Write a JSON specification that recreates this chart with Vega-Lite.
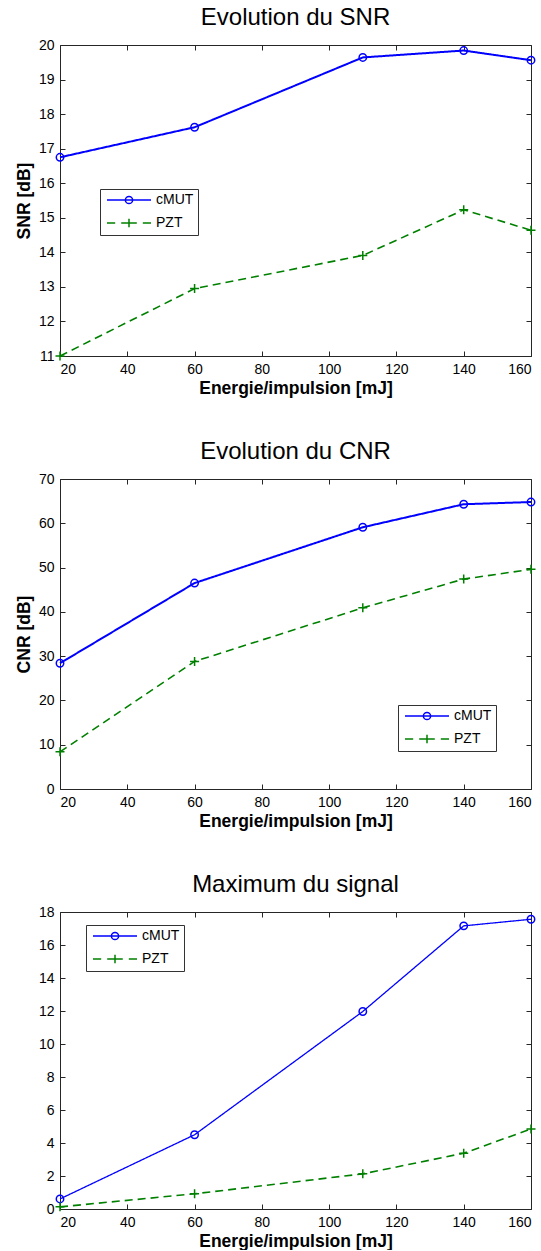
{
  "$schema": "https://vega.github.io/schema/vega-lite/v6.json",
  "padding": {"left": 14, "top": 5, "right": 0, "bottom": 0},
  "spacing": 42,
  "datasets": {
    "snr": [
      {"E": 20, "serie": "cMUT", "v": 16.75}, {"E": 60, "serie": "cMUT", "v": 17.62}, {"E": 110, "serie": "cMUT", "v": 19.64}, {"E": 140, "serie": "cMUT", "v": 19.84}, {"E": 160, "serie": "cMUT", "v": 19.56},
      {"E": 20, "serie": "PZT", "v": 11.0}, {"E": 60, "serie": "PZT", "v": 12.95}, {"E": 110, "serie": "PZT", "v": 13.91}, {"E": 140, "serie": "PZT", "v": 15.23}, {"E": 160, "serie": "PZT", "v": 14.64}
    ],
    "cnr": [
      {"E": 20, "serie": "cMUT", "v": 28.4}, {"E": 60, "serie": "cMUT", "v": 46.5}, {"E": 110, "serie": "cMUT", "v": 59.1}, {"E": 140, "serie": "cMUT", "v": 64.3}, {"E": 160, "serie": "cMUT", "v": 64.8},
      {"E": 20, "serie": "PZT", "v": 8.4}, {"E": 60, "serie": "PZT", "v": 28.8}, {"E": 110, "serie": "PZT", "v": 40.9}, {"E": 140, "serie": "PZT", "v": 47.4}, {"E": 160, "serie": "PZT", "v": 49.6}
    ],
    "maxi": [
      {"E": 20, "serie": "cMUT", "v": 0.61}, {"E": 60, "serie": "cMUT", "v": 4.5}, {"E": 110, "serie": "cMUT", "v": 11.97}, {"E": 140, "serie": "cMUT", "v": 17.16}, {"E": 160, "serie": "cMUT", "v": 17.56},
      {"E": 20, "serie": "PZT", "v": 0.13}, {"E": 60, "serie": "PZT", "v": 0.92}, {"E": 110, "serie": "PZT", "v": 2.13}, {"E": 140, "serie": "PZT", "v": 3.38}, {"E": 160, "serie": "PZT", "v": 4.85}
    ]
  },
  "resolve": {
    "scale": {"color": "independent", "shape": "independent"},
    "legend": {"color": "independent", "shape": "independent"}
  },
  "vconcat": [
    {
      "title": "Evolution du SNR",
      "width": 471, "height": 311,
      "data": {"name": "snr"},
      "layer": [
        {
          "mark": {"type": "line"},
          "encoding": {
            "x": {"field": "E", "type": "quantitative", "scale": {"domain": [20, 160], "nice": false}, "axis": {"values": [20,40,60,80,100,120,140,160], "title": "Energie/impulsion [mJ]"}},
            "y": {"field": "v", "type": "quantitative", "scale": {"domain": [11, 20], "nice": false, "zero": false}, "axis": {"values": [11,12,13,14,15,16,17,18,19,20], "title": "SNR [dB]"}},
            "color": {"field": "serie", "type": "nominal", "scale": {"domain": ["cMUT", "PZT"], "range": ["#0000ff", "#008000"]}, "legend": {"orient": "none", "legendX": 40, "legendY": 144}},
            "strokeDash": {"condition": {"test": "datum.serie == 'PZT'", "value": [8, 5]}, "value": [1, 0]},
            "strokeWidth": {"condition": {"test": "datum.serie == 'PZT'", "value": 1.6}, "value": 2}
          }
        },
        {
          "mark": {"type": "point", "filled": false, "strokeWidth": 1.5, "opacity": 1},
          "encoding": {
            "x": {"field": "E", "type": "quantitative", "scale": {"domain": [20, 160], "nice": false}, "axis": null},
            "y": {"field": "v", "type": "quantitative", "scale": {"domain": [11, 20], "nice": false, "zero": false}, "axis": null},
            "color": {"field": "serie", "type": "nominal", "legend": {"orient": "none", "legendX": 40, "legendY": 144}},
            "shape": {"condition": {"test": "datum.serie == 'PZT'", "value": "M-1,0H1M0,-1V1"}, "value": "circle"},
            "size": {"condition": {"test": "datum.serie == 'PZT'", "value": 81}, "value": 55}
          }
        },
        {
          "mark": {"type": "point", "opacity": 0, "filled": false, "strokeWidth": 1.8},
          "encoding": {
            "x": {"field": "E", "type": "quantitative", "scale": {"domain": [20, 160], "nice": false}, "axis": {"orient": "top", "values": [20,40,60,80,100,120,140,160], "labels": false, "title": null}},
            "y": {"field": "v", "type": "quantitative", "scale": {"domain": [11, 20], "nice": false, "zero": false}, "axis": {"orient": "right", "values": [11,12,13,14,15,16,17,18,19,20], "labels": false, "title": null}},
            "color": {"field": "serie", "type": "nominal", "legend": {"orient": "none", "legendX": 40, "legendY": 144}},
            "shape": {"field": "serie", "type": "nominal", "scale": {"domain": ["cMUT", "PZT"], "range": ["M-3.67,0H3.67M-0.6,0A0.6,0.6 0 1,1 0.6,0A0.6,0.6 0 1,1 -0.6,0", "M-3.67,0H-2.3M-1.3,0H1.3M2.3,0H3.67M0,-0.7V0.7"]}, "legend": {"orient": "none", "legendX": 40, "legendY": 144}}
          }
        }
      ],
      "resolve": {"scale": {"x": "independent", "y": "independent"}, "axis": {"x": "independent", "y": "independent"}}
    },
    {
      "title": "Evolution du CNR",
      "width": 471, "height": 310,
      "data": {"name": "cnr"},
      "layer": [
        {
          "mark": {"type": "line"},
          "encoding": {
            "x": {"field": "E", "type": "quantitative", "scale": {"domain": [20, 160], "nice": false}, "axis": {"values": [20,40,60,80,100,120,140,160], "title": "Energie/impulsion [mJ]"}},
            "y": {"field": "v", "type": "quantitative", "scale": {"domain": [0, 70], "nice": false}, "axis": {"values": [0,10,20,30,40,50,60,70], "title": "CNR [dB]"}},
            "color": {"field": "serie", "type": "nominal", "scale": {"domain": ["cMUT", "PZT"], "range": ["#0000ff", "#008000"]}, "legend": {"orient": "none", "legendX": 338, "legendY": 226}},
            "strokeDash": {"condition": {"test": "datum.serie == 'PZT'", "value": [8, 5]}, "value": [1, 0]},
            "strokeWidth": {"condition": {"test": "datum.serie == 'PZT'", "value": 1.6}, "value": 2}
          }
        },
        {
          "mark": {"type": "point", "filled": false, "strokeWidth": 1.5, "opacity": 1},
          "encoding": {
            "x": {"field": "E", "type": "quantitative", "scale": {"domain": [20, 160], "nice": false}, "axis": null},
            "y": {"field": "v", "type": "quantitative", "scale": {"domain": [0, 70], "nice": false}, "axis": null},
            "color": {"field": "serie", "type": "nominal", "legend": {"orient": "none", "legendX": 338, "legendY": 226}},
            "shape": {"condition": {"test": "datum.serie == 'PZT'", "value": "M-1,0H1M0,-1V1"}, "value": "circle"},
            "size": {"condition": {"test": "datum.serie == 'PZT'", "value": 81}, "value": 55}
          }
        },
        {
          "mark": {"type": "point", "opacity": 0, "filled": false, "strokeWidth": 1.8},
          "encoding": {
            "x": {"field": "E", "type": "quantitative", "scale": {"domain": [20, 160], "nice": false}, "axis": {"orient": "top", "values": [20,40,60,80,100,120,140,160], "labels": false, "title": null}},
            "y": {"field": "v", "type": "quantitative", "scale": {"domain": [0, 70], "nice": false}, "axis": {"orient": "right", "values": [0,10,20,30,40,50,60,70], "labels": false, "title": null}},
            "color": {"field": "serie", "type": "nominal", "legend": {"orient": "none", "legendX": 338, "legendY": 226}},
            "shape": {"field": "serie", "type": "nominal", "scale": {"domain": ["cMUT", "PZT"], "range": ["M-3.67,0H3.67M-0.6,0A0.6,0.6 0 1,1 0.6,0A0.6,0.6 0 1,1 -0.6,0", "M-3.67,0H-2.3M-1.3,0H1.3M2.3,0H3.67M0,-0.7V0.7"]}, "legend": {"orient": "none", "legendX": 338, "legendY": 226}}
          }
        }
      ],
      "resolve": {"scale": {"x": "independent", "y": "independent"}, "axis": {"x": "independent", "y": "independent"}}
    },
    {
      "title": "Maximum du signal",
      "width": 471, "height": 297,
      "data": {"name": "maxi"},
      "layer": [
        {
          "mark": {"type": "line"},
          "encoding": {
            "x": {"field": "E", "type": "quantitative", "scale": {"domain": [20, 160], "nice": false}, "axis": {"values": [20,40,60,80,100,120,140,160], "title": "Energie/impulsion [mJ]"}},
            "y": {"field": "v", "type": "quantitative", "scale": {"domain": [0, 18], "nice": false}, "axis": {"values": [0,2,4,6,8,10,12,14,16,18], "title": null}},
            "color": {"field": "serie", "type": "nominal", "scale": {"domain": ["cMUT", "PZT"], "range": ["#0000ff", "#008000"]}, "legend": {"orient": "none", "legendX": 26, "legendY": 13}},
            "strokeDash": {"condition": {"test": "datum.serie == 'PZT'", "value": [8, 5]}, "value": [1, 0]},
            "strokeWidth": {"condition": {"test": "datum.serie == 'PZT'", "value": 1.6}, "value": 1.3}
          }
        },
        {
          "mark": {"type": "point", "filled": false, "strokeWidth": 1.5, "opacity": 1},
          "encoding": {
            "x": {"field": "E", "type": "quantitative", "scale": {"domain": [20, 160], "nice": false}, "axis": null},
            "y": {"field": "v", "type": "quantitative", "scale": {"domain": [0, 18], "nice": false}, "axis": null},
            "color": {"field": "serie", "type": "nominal", "legend": {"orient": "none", "legendX": 26, "legendY": 13}},
            "shape": {"condition": {"test": "datum.serie == 'PZT'", "value": "M-1,0H1M0,-1V1"}, "value": "circle"},
            "size": {"condition": {"test": "datum.serie == 'PZT'", "value": 81}, "value": 55}
          }
        },
        {
          "mark": {"type": "point", "opacity": 0, "filled": false, "strokeWidth": 1.4},
          "encoding": {
            "x": {"field": "E", "type": "quantitative", "scale": {"domain": [20, 160], "nice": false}, "axis": {"orient": "top", "values": [20,40,60,80,100,120,140,160], "labels": false, "title": null}},
            "y": {"field": "v", "type": "quantitative", "scale": {"domain": [0, 18], "nice": false}, "axis": {"orient": "right", "values": [0,2,4,6,8,10,12,14,16,18], "labels": false, "title": null}},
            "color": {"field": "serie", "type": "nominal", "legend": {"orient": "none", "legendX": 26, "legendY": 13}},
            "shape": {"field": "serie", "type": "nominal", "scale": {"domain": ["cMUT", "PZT"], "range": ["M-3.67,0H3.67M-0.6,0A0.6,0.6 0 1,1 0.6,0A0.6,0.6 0 1,1 -0.6,0", "M-3.67,0H-2.3M-1.3,0H1.3M2.3,0H3.67M0,-0.7V0.7"]}, "legend": {"orient": "none", "legendX": 26, "legendY": 13}}
          }
        }
      ],
      "resolve": {"scale": {"x": "independent", "y": "independent"}, "axis": {"x": "independent", "y": "independent"}}
    }
  ],
  "config": {
    "font": "Liberation Sans",
    "view": {"stroke": "#262626", "strokeWidth": 1},
    "title": {"font": "Liberation Sans", "fontSize": 24, "fontWeight": "normal", "color": "#000000", "offset": 8},
    "axis": {
      "grid": false, "domain": false,
      "ticks": true, "tickSize": -5, "tickColor": "#262626", "tickWidth": 1,
      "labelFont": "Liberation Sans", "labelFontSize": 14, "labelColor": "#000000", "labelPadding": 11,
      "titleFont": "Liberation Sans", "titleFontSize": 17.5, "titleFontWeight": "bold", "titleColor": "#000000"
    },
    "axisX": {"titlePadding": 3},
    "axisY": {"titlePadding": 5},
    "legend": {
      "title": null, "strokeColor": "#333333", "fillColor": "#ffffff", "padding": 4,
      "symbolSize": 144, "symbolOffset": 18, "symbolOpacity": 1, "symbolFillColor": "transparent",
      "labelFont": "Liberation Sans", "labelFontSize": 14, "labelColor": "#000000",
      "labelOffset": 20, "rowPadding": 8
    }
  }
}
